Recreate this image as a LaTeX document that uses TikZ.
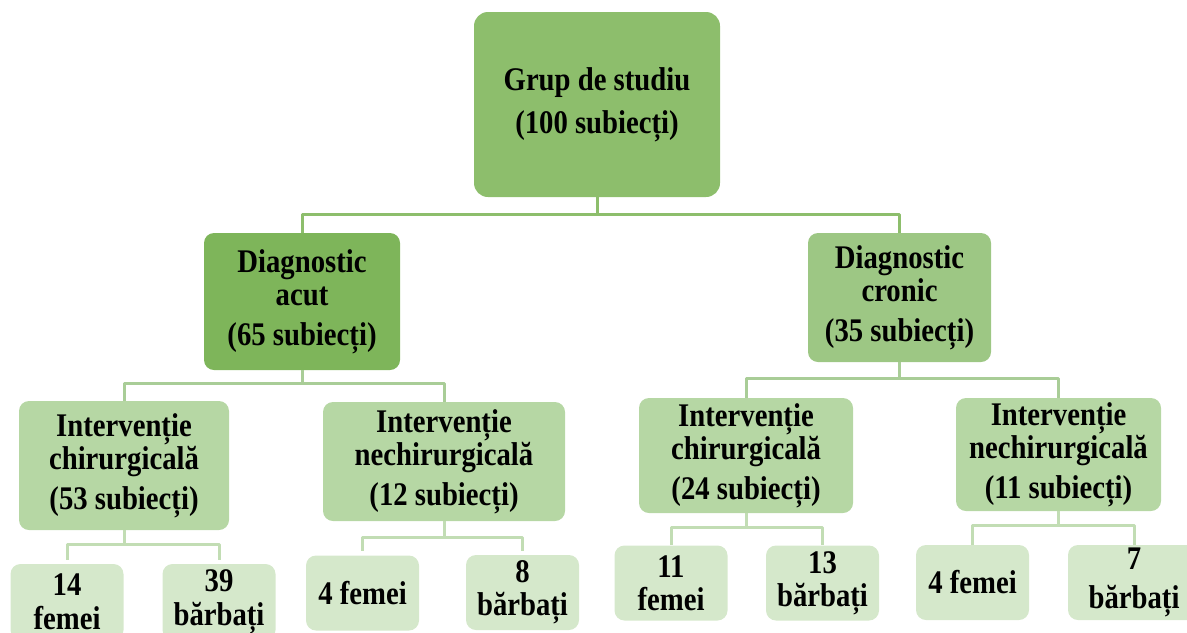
\documentclass[tikz,border=0pt]{standalone}
\usepackage{fontspec}
\setmainfont{Liberation Serif}[FakeStretch=0.87]
\definecolor{rootgreen}{HTML}{8DBE6C}
\definecolor{acutgreen}{HTML}{7EB55A}
\definecolor{cronicgreen}{HTML}{9DC784}
\definecolor{midgreen}{HTML}{B6D7A4}
\definecolor{lightgreen}{HTML}{D5E8CB}
\definecolor{linkone}{HTML}{8DBE6C}
\definecolor{linktwo}{HTML}{A9CD97}
\definecolor{linkthree}{HTML}{C2DDB4}
\begin{document}
\begin{tikzpicture}[x=0.5pt, y=-0.5pt, line join=round,
	box/.style={rounded corners=5pt, inner sep=0pt, align=center, font=\bfseries\fontsize{16.5}{16.5}\selectfont},
	leaf/.style={box, fill=lightgreen, minimum width=56.5pt, minimum height=37.5pt},
	branch/.style={box, fill=midgreen},
	link/.style={line width=1.5pt}]
	\useasboundingbox (0,0) rectangle (1187,632);
	\clip (0,0) rectangle (1187,632);
	% nivel 0
	\node[box, fill=rootgreen, rounded corners=7pt, minimum width=123pt, minimum height=92.5pt] (grup) at (597,104.5) {Grup de studiu\\[5pt](100 subiecți)};
	% nivel 1
	\node[box, fill=acutgreen, minimum width=98pt, minimum height=68.5pt] (acut) at (302,301.5) {Diagnostic\\acut\\[3.5pt](65 subiecți)};
	\node[box, fill=cronicgreen, minimum width=91.5pt, minimum height=64.5pt] (cronic) at (899.5,297.5) {Diagnostic\\cronic\\[3.5pt](35 subiecți)};
	% nivel 2
	\node[branch, minimum width=105pt, minimum height=64.5pt] (chirA) at (124,465.5) {Intervenție\\chirurgicală\\[3.5pt](53 subiecți)};
	\node[branch, minimum width=121pt, minimum height=59.5pt] (nechA) at (444,461.5) {Intervenție\\nechirurgicală\\[3.5pt](12 subiecți)};
	\node[branch, minimum width=107pt, minimum height=57.5pt] (chirC) at (746,455.5) {Intervenție\\chirurgicală\\[3.5pt](24 subiecți)};
	\node[branch, minimum width=102.5pt, minimum height=56.5pt] (nechC) at (1058.5,454.5) {Intervenție\\nechirurgicală\\[3.5pt](11 subiecți)};
	% nivel 3
	\node[leaf, minimum height=38pt] (femA) at (67,602) {14\\[0.5pt]femei};
	\node[leaf, minimum height=38pt] (barA) at (219,602) {39\\[0.5pt]bărbați};
	\node[leaf] (femB) at (362.5,593) {4 femei};
	\node[leaf] (barB) at (522.5,592.5) {8\\bărbați};
	\node[leaf] (femC) at (671,583) {11\\femei};
	\node[leaf] (barC) at (822.5,583) {13\\bărbați};
	\node[leaf] (femD) at (972.5,582.5) {4 femei};
	\node[leaf, minimum width=66pt] (barD) at (1134,582.5) {7\\[3pt]bărbați};
	% conexiuni
	\draw[link, linkone] (grup.south) -- ++(0,17) -| (acut.north);
	\draw[link, linkone] (grup.south) -- ++(0,17) -| (cronic.north);
	\draw[link, linktwo] (acut.south) -- ++(0,13) -| (chirA.north);
	\draw[link, linktwo] (acut.south) -- ++(0,13) -| (nechA.north);
	\draw[link, linktwo] (cronic.south) -- ++(0,16) -| (chirC.north);
	\draw[link, linktwo] (cronic.south) -- ++(0,16) -| (nechC.north);
	\draw[link, linkthree, shorten >=2pt] (chirA.south) -- ++(0,14) -| (femA.north);
	\draw[link, linkthree, shorten >=2pt] (chirA.south) -- ++(0,14) -| (barA.north);
	\draw[link, linkthree, shorten >=2pt] (nechA.south) -- ++(0,16) -| (femB.north);
	\draw[link, linkthree, shorten >=2pt] (nechA.south) -- ++(0,16) -| (barB.north);
	\draw[link, linkthree] (chirC.south) -- ++(0,14) -| (femC.north);
	\draw[link, linkthree] (chirC.south) -- ++(0,14) -| (barC.north);
	\draw[link, linkthree] (nechC.south) -- ++(0,14) -| (femD.north);
	\draw[link, linkthree] (nechC.south) -- ++(0,14) -| (barD.north);
\end{tikzpicture}
\end{document}
